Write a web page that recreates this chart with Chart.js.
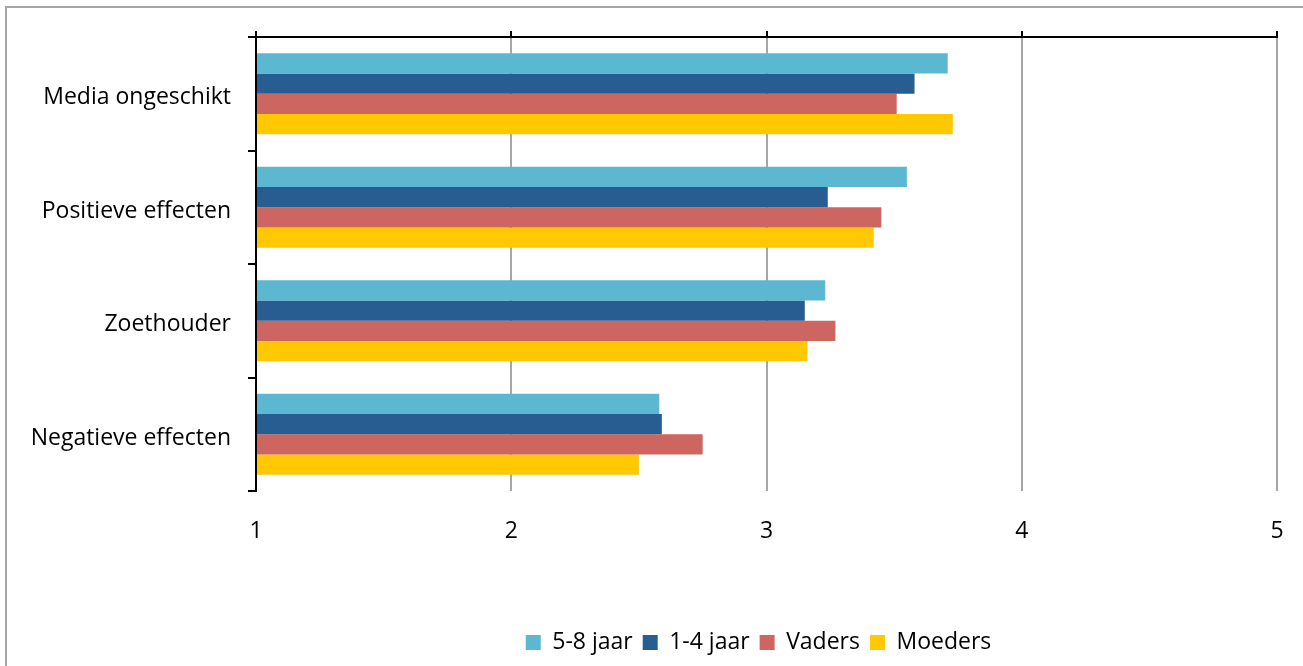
<!DOCTYPE html>
<html>
<head>
<meta charset="utf-8">
<script src="https://cdn.jsdelivr.net/npm/chart.js@4"></script>
<style>
  body { margin: 0; background: #fff; }
  #wrap { position: relative; width: 1303px; height: 666px; overflow: hidden; }
  #frame { position: absolute; left: 5px; top: 6px; width: 1400px; height: 800px;
           border: 2px solid #a6a6a6; pointer-events: none; }
</style>
</head>
<body>
<div id="wrap">
  <canvas id="mediaChart"></canvas>
  <div id="frame"></div>
</div>
<script>
// categories + series (mean scores)
const categories = ["Media ongeschikt", "Positieve effecten", "Zoethouder", "Negatieve effecten"];
const kids58   = [3.71, 3.55, 3.23, 2.58];
const kids14   = [3.58, 3.24, 3.15, 2.59];
const vaders   = [3.51, 3.45, 3.27, 2.75];
const moeders  = [3.73, 3.42, 3.16, 2.50];
const axisTicks = [1, 2, 3, 4, 5];

const FONT = "'Open Sans', sans-serif";
const GRID = '#a6a6a6';

// center legend under the plot area instead of the whole canvas
const legendUnderPlot = {
    id: 'legendUnderPlot',
    afterLayout(chart) {
        const lg = chart.legend;
        lg.left = chart.chartArea.left - 8;
        lg.right = chart.chartArea.right - 8;
    }
};

function ds(label, data, color) {
    return {
        label: label,
        data: data,
        backgroundColor: color,
        borderWidth: 0,
        base: axisTicks[0],
        barPercentage: 1,
        categoryPercentage: 0.715
    };
}

new Chart(document.getElementById('mediaChart').getContext('2d'), {
    type: 'bar',
    data: {
        labels: categories,
        datasets: [
            ds('5-8 jaar', kids58, '#5bb8d0'),
            ds('1-4 jaar', kids14, '#275d90'),
            ds('Vaders', vaders, '#cd6560'),
            ds('Moeders', moeders, '#ffc800')
        ]
    },
    plugins: [legendUnderPlot],
    options: {
        indexAxis: 'y',
        responsive: true,
        maintainAspectRatio: false,
        animation: false,
        layout: { padding: { left: 6, right: 26, top: 31, bottom: 2 } },
        plugins: {
            tooltip: { enabled: false },
            legend: {
                position: 'bottom',
                labels: {
                    font: { family: FONT, size: 23 },
                    color: '#000',
                    boxWidth: 15,
                    boxHeight: 15,
                    padding: 10
                }
            }
        },
        scales: {
            x: {
                position: 'top',
                min: axisTicks[0],
                max: axisTicks[axisTicks.length - 1],
                afterFit(scale) { scale.paddingLeft = 0; scale.paddingRight = 0; },
                ticks: { display: false, stepSize: 1 },
                grid: { color: GRID, lineWidth: 2, tickColor: '#000', tickLength: 6 },
                border: { color: '#000', width: 2 }
            },
            x2: {
                position: 'bottom',
                axis: 'x',
                min: axisTicks[0],
                max: axisTicks[axisTicks.length - 1],
                afterFit(scale) {
                    scale.height = 130;
                    scale.paddingLeft = 0;
                    scale.paddingRight = 0;
                },
                ticks: {
                    stepSize: 1,
                    padding: 27,
                    color: '#000',
                    font: { family: FONT, size: 23 }
                },
                grid: { display: false, drawTicks: false },
                border: { display: false }
            },
            y: {
                afterFit(scale) { scale.width = 250; },
                ticks: {
                    color: '#000',
                    padding: 17,
                    labelOffset: 4,
                    font: { family: FONT, size: 23 }
                },
                grid: { drawOnChartArea: false, tickColor: '#000', lineWidth: 2, tickLength: 8 },
                border: { color: '#000', width: 2 }
            }
        }
    }
});
</script>
</body>
</html>
